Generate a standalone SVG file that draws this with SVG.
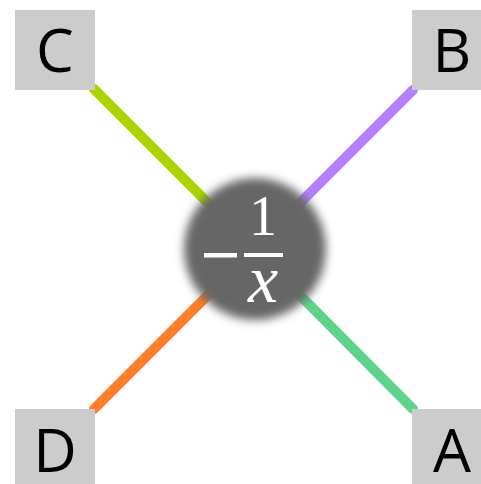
<svg xmlns="http://www.w3.org/2000/svg" width="481" height="484" viewBox="0 0 481 484">
<style>
.box{fill:#cccccc}
.lbl{font-family:"Open Sans","DejaVu Sans",sans-serif;font-size:60px;fill:#000;text-anchor:middle}
.edge{stroke-width:10;stroke-linecap:round;fill:none}
.math{font-family:"Liberation Serif","DejaVu Serif",serif;fill:#fff;text-anchor:middle}
</style>
<defs>
<filter id="blur" x="-20%" y="-20%" width="140%" height="140%"><feGaussianBlur stdDeviation="5"/></filter>
</defs>
<rect width="481" height="484" fill="#fff"/>
<g id="connectors">
<line class="edge" x1="94" y1="89" x2="254" y2="249" stroke="#aad400"/>
<line class="edge" x1="413" y1="90" x2="254" y2="249" stroke="#b380ff"/>
<line class="edge" x1="94" y1="409" x2="254" y2="249" stroke="#ff7f2a"/>
<line class="edge" x1="413" y1="409" x2="254" y2="249" stroke="#5fd38d"/>
</g>
<g id="center">
<circle cx="255" cy="249" r="71" fill="#666666" filter="url(#blur)"/>
<rect x="204" y="253" width="33" height="4.5" fill="#fff"/>
<rect x="244" y="253" width="39" height="4" fill="#fff"/>
<text class="math" x="263" y="235" font-size="56">1</text>
<text class="math" x="263" y="302" font-size="68" font-style="italic">x</text>
</g>
<g id="C"><rect class="box" x="15" y="10" width="80" height="80"/><text class="lbl" x="55" y="72">C</text></g>
<g id="B"><rect class="box" x="412" y="10" width="80" height="80"/><text class="lbl" x="452" y="72">B</text></g>
<g id="D"><rect class="box" x="15" y="409" width="80" height="80"/><text class="lbl" x="55" y="472">D</text></g>
<g id="A"><rect class="box" x="412" y="409" width="80" height="80"/><text class="lbl" x="452" y="472">A</text></g>
</svg>
